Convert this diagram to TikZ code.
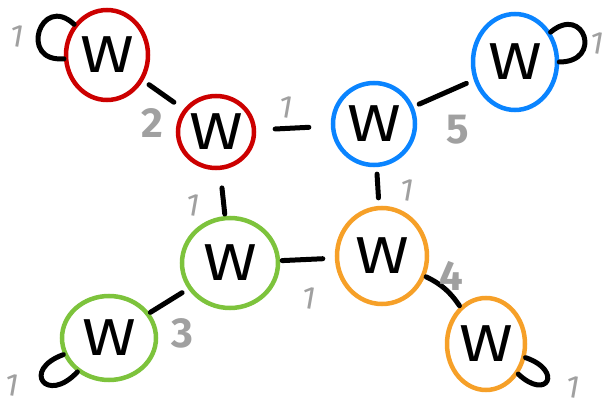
\documentclass[tikz,border=0pt]{standalone}
\usepackage{fontspec}
\setmainfont{Fira Sans}
\usetikzlibrary{shapes.geometric}
\definecolor{wred}{RGB}{204,0,0}
\definecolor{wblue}{RGB}{10,132,255}
\definecolor{wgreen}{RGB}{125,195,60}
\definecolor{worange}{RGB}{246,160,40}
\definecolor{wgray}{RGB}{160,160,160}

\begin{document}
\begin{tikzpicture}[x=1pt,y=1pt,
  wnode/.style={ellipse,line width=4.5pt,inner sep=0pt,
    font=\fontsize{52}{52}\selectfont},
  link/.style={line width=5pt,line cap=round},
  wt/.style={text=wgray,font=\fontsize{42}{42}\selectfont\bfseries},
  one/.style={text=wgray,font=\fontsize{32}{32}\selectfont,rotate=-10}]
  \useasboundingbox (0,0) rectangle (606,413);
  % the W nodes
  \foreach \n/\x/\y/\w/\h/\c in {r1/107/358/82/90/wred, r2/216/281/76/72/wred,
      b1/374/289/82/82/wblue, b2/515/351/84/96/wblue,
      g1/230/150/96/90/wgreen, g2/109/75/94/84/wgreen,
      o1/382/157/90/96/worange, o2/486/69/78/92/worange} {
    \node[wnode,draw=\c,minimum width=\w,minimum height=\h] (\n) at (\x,\y)
         {\scalebox{1.25}[1]{W}};
  }
  % links
  \draw[link,shorten <=7pt,shorten >=12pt] (r1) -- (r2);
  \draw[link,shorten <=19pt,shorten >=22pt] (r2) -- (b1);
  \draw[link,shorten <=6pt,shorten >=8pt] (b1) -- (b2);
  \draw[link,shorten <=18pt,shorten >=2pt] (r2) -- (g1);
  \draw[link,shorten <=7pt,shorten >=8pt] (b1) -- (o1);
  \draw[link,shorten <=2pt,shorten >=12pt] (g1) -- (o1);
  \draw[link,shorten <=1pt,shorten >=7pt] (g2) -- (g1);
  \draw[link,shorten <=1pt,shorten >=1pt] (o1) to[bend left=15] (o2);
  % self loops
  \draw[link] (r1) to[out=137,in=185,distance=46pt] (r1);
  \draw[link] (b2) to[out=40,in=0,distance=44pt] (b2);
  \draw[link] (g2) to[out=200,in=227,distance=45pt] (g2);
  \draw[link] (o2) to[out=-19,in=-43,distance=40pt] (o2);
  % weights
  \foreach \n/\x/\y/\t in {w2/152/290/2, w5/458/283/5, w3/182/80/3, w4/451/137/4}
    \node[wt] (\n) at (\x,\y) {\t};
  \foreach \n/\x/\y in {wa/17/377, wb/286/306, wc/193/208, wd/407/223,
      we/309/115, wf/12/28, wg/573/26, wh/597/370}
    \node[one] (\n) at (\x,\y) {1};
\end{tikzpicture}
\end{document}
